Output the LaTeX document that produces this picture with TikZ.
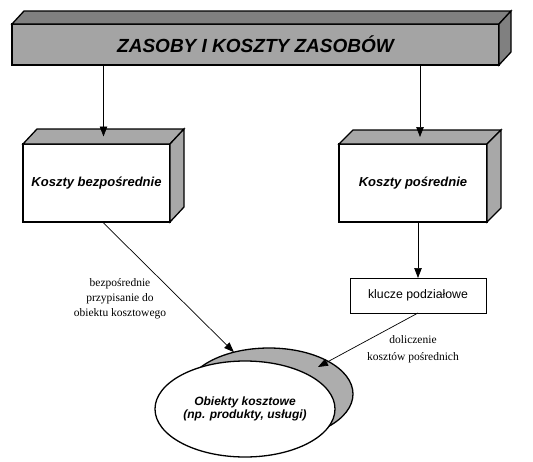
\documentclass[tikz,border=0pt]{standalone}
\usepackage{fontspec}
\setmainfont{Liberation Serif}
\setsansfont{Liberation Sans}
\usepackage{xcolor}
\usetikzlibrary{arrows.meta,shapes,calc,positioning}
\definecolor{bartop}{HTML}{808080}
\definecolor{barfront}{HTML}{A4A4A4}
\definecolor{boxside}{HTML}{A8A8A8}
\definecolor{shade}{HTML}{ADADAD}

\begin{document}
\begin{tikzpicture}[x=1pt,y=-1pt]
			\tikzstyle{every node}=[font=\sffamily]
			\tikzstyle{face}=[draw, line width=1.3pt]
			\tikzstyle{cube}=[draw, line width=1.3pt, fill=white, outer sep=0pt, inner sep=0pt, font=\sffamily\bfseries\itshape\fontsize{13}{15}\selectfont]
			\tikzstyle{conn}=[line width=0.7pt, -{Triangle[length=10pt,width=7.5pt]}]
			\tikzstyle{lbl}=[align=center, inner sep=0pt, font=\rmfamily\fontsize{11.5}{15}\selectfont]
			\useasboundingbox (0,0) rectangle (533,461);
			% title bar
			\node [cube, fill=barfront, minimum width=487, minimum height=41, font=\sffamily\bfseries\itshape\fontsize{19}{22}\selectfont] (bar) at (255.5,44.5) {ZASOBY I KOSZTY ZASOBÓW};
			\draw [face, fill=bartop] (bar.north west) -- ++(12,-13) -- ($(bar.north east)+(12,-13)$) -- (bar.north east) -- cycle;
			\draw [face, fill=bartop] (bar.north east) -- ++(12,-13) -- ($(bar.south east)+(12,-13)$) -- (bar.south east) -- cycle;
			% direct costs
			\node [cube, minimum width=147, minimum height=78] (bez) at (96.5,183) {Koszty bezpośrednie};
			\draw [face, fill=boxside] (bez.north west) -- ++(14,-15) -- ($(bez.north east)+(14,-15)$) -- (bez.north east) -- cycle;
			\draw [face, fill=boxside] (bez.north east) -- ++(14,-15) -- ($(bez.south east)+(14,-15)$) -- (bez.south east) -- cycle;
			% indirect costs
			\node [cube, minimum width=148, minimum height=78] (poz) at (413,183) {Koszty pośrednie};
			\draw [face, fill=boxside] (poz.north west) -- ++(14,-14) -- ($(poz.north east)+(14,-14)$) -- (poz.north east) -- cycle;
			\draw [face, fill=boxside] (poz.north east) -- ++(14,-14) -- ($(poz.south east)+(14,-14)$) -- (poz.south east) -- cycle;
			\node [draw, line width=1pt, outer sep=0pt, minimum width=136, minimum height=35, font=\sffamily\fontsize{12.3}{14}\selectfont] (klu) at (418,295.5) {klucze podziałowe};
			% cost objects
			\node [draw, ellipse, line width=1.3pt, fill=shade, outer sep=0pt, minimum width=168, minimum height=92] (cien) at (269,394) {};
			\node [draw, ellipse, line width=1.3pt, fill=white, outer sep=0pt, minimum width=180, minimum height=96, inner sep=0pt, align=center, font=\sffamily\bfseries\itshape\fontsize{12}{13}\selectfont] (obj) at (245,409) {Obiekty kosztowe\\(np. produkty, usługi)};
			\coordinate (bezTop) at ($(bez.north)+(7,-7.5)$);
			\coordinate (pozTop) at ($(poz.north)+(7,-7)$);
			\coordinate (bezOut) at ($(bez.south)+(6,0)$);
			\coordinate (tipB) at ($(cien.center)+(49,-27)$);
			% connectors
			\draw [conn] (bar.south -| bezTop) -- (bezTop);
			\draw [conn] (bar.south -| pozTop) -- (pozTop);
			\draw [conn] (klu.north |- poz.south) -- (klu.north);
			\draw [conn] (bezOut) -- (cien.130);
			\draw [conn] (klu.south) -- (tipB);
			\node [lbl] (lblA) at (120,299) {bezpośrednie\\przypisanie do\\obiektu kosztowego};
			\node [lbl, font=\rmfamily\fontsize{11.5}{17}\selectfont] (lblB) at (413,349.5) {doliczenie\\kosztów pośrednich};
\end{tikzpicture}
\end{document}
